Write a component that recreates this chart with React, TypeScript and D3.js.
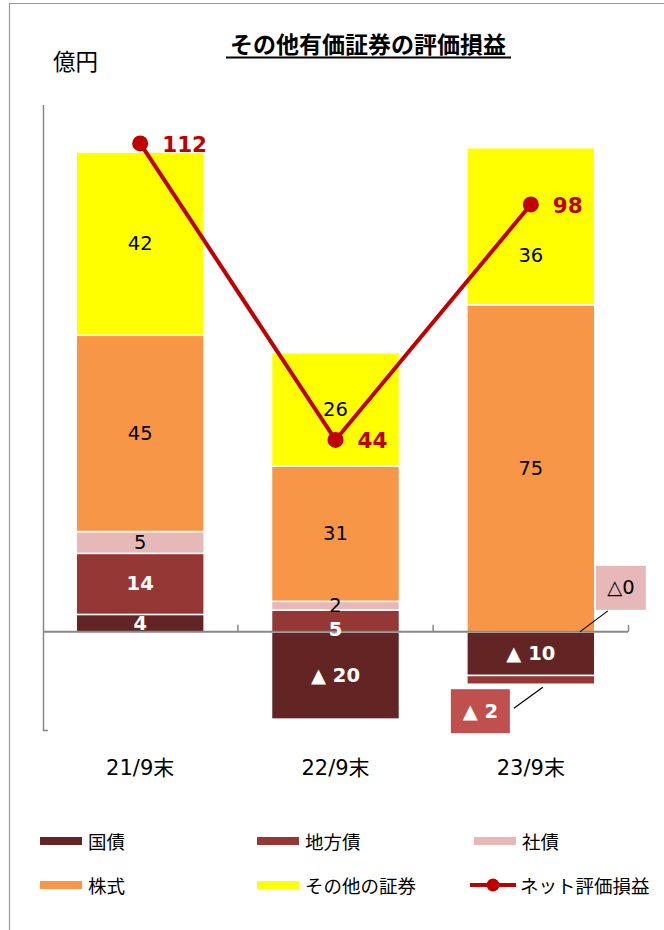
import React from "react";
import * as d3 from "d3";

const categories = ["21/9末", "22/9末", "23/9末"];
const seriesNames = ["国債", "地方債", "社債", "株式", "その他の証券"];
const kokusai = [4, -20, -10];
const chihousai = [14, 5, -2];
const shasai = [5, 2, 0];
const kabushiki = [45, 31, 75];
const sonota = [42, 26, 36];
const netValues = [112, 44, 98];
const lineName = "ネット評価損益";

const seriesValues = [kokusai, chihousai, shasai, kabushiki, sonota];
const colors = ["#632523", "#953735", "#E6B9B8", "#F79646", "#FFFF00"];
const labelColors = ["#fff", "#fff", "#000", "#000", "#000"];
const labelBold = [true, true, false, false, false];
const lineColor = "#C00000";

const W = 664;
const H = 930;
const FONT = "'DejaVu Sans', 'Noto Sans CJK JP', sans-serif";
const JFONT = "'Noto Sans CJK JP', sans-serif";

const fmt = (v: number) => (v < 0 ? `▲ ${Math.abs(v)}` : `${v}`);

export default function App() {
  const x = d3.scaleBand<string>().domain(categories).range([43, 628]).paddingInner(0.345).paddingOuter(0.17);
  const y = d3.scaleLinear().domain([-22.5, 120.8]).range([730, 105]);

  const rows = categories.map((c, i) => {
    const r: any = { cat: c };
    seriesNames.forEach((s, k) => (r[s] = seriesValues[k][i]));
    return r;
  });
  const stacked = d3.stack<any>().keys(seriesNames).offset(d3.stackOffsetDiverging)(rows);

  const y0 = y(0);
  const bw = x.bandwidth();
  const cx = (c: string) => (x(c) as number) + bw / 2;

  type Lab = { x: number; y: number; text: string; color: string; bold: boolean };
  const labels: Lab[] = [];
  categories.forEach((c, i) => {
    const catLabels: Lab[] = [];
    const py = y(netValues[i]);
    stacked.forEach((s, k) => {
      const v = seriesValues[k][i];
      if (v === 0) return;
      if (v < 0 && Math.abs(v) < 5) return; // small negative shown as callout
      const d = s[i];
      let mid = (y(d[0]) + y(d[1])) / 2;
      if (Math.abs(mid - py) < 25) mid = py + 51; // keep clear of the net marker
      catLabels.push({ x: cx(c), y: mid, text: fmt(v), color: labelColors[k], bold: labelBold[k] });
    });
    const pos = catLabels.filter((l) => l.y < y0).sort((a, b) => a.y - b.y);
    for (let j = 1; j < pos.length; j++) {
      if (pos[j].y - pos[j - 1].y < 22) pos[j].y = pos[j - 1].y + 24;
    }
    labels.push(...catLabels);
  });

  const line = d3
    .line<number>()
    .x((_, i) => cx(categories[i]))
    .y((d) => y(d));

  const c3 = categories[2];
  const bx3 = x(c3) as number;
  const chiSeg = stacked[1][2];
  const chiBottom = y(chiSeg[0]);

  const band = x.step();
  const tickXs = categories.map((c) => (x(c) as number) + bw / 2 + band / 2);

  const legendItems = [...seriesNames.map((s, k) => ({ name: s, color: colors[k], line: false })), { name: lineName, color: lineColor, line: true }];

  return (
    <svg width={W} height={H} style={{ display: "block", position: "absolute", left: 0, top: 0 }}>
      <rect x={0} y={0} width={W} height={H} fill="#fff" />
      <line x1={9} y1={3.5} x2={W} y2={3.5} stroke="#999" strokeWidth={1.2} />
      <line x1={9.5} y1={3} x2={9.5} y2={H} stroke="#999" strokeWidth={1.2} />

      <text x={368} y={53} textAnchor="middle" fontFamily={JFONT} fontWeight="bold" fontSize={23} fill="#000">
        その他有価証券の評価損益
      </text>
      <line x1={226} y1={57.5} x2={511} y2={57.5} stroke="#000" strokeWidth={2} />
      <text x={53} y={70} fontFamily={JFONT} fontSize={22.5} fill="#000">
        億円
      </text>

      {stacked.map((s, k) =>
        s.map((d, i) => {
          const v = seriesValues[k][i];
          if (v === 0) return null;
          const top = y(Math.max(d[0], d[1]));
          const bot = y(Math.min(d[0], d[1]));
          return (
            <rect key={`${k}-${i}`} x={x(categories[i])} y={top} width={bw} height={bot - top} fill={colors[k]} stroke="#fff" strokeWidth={1.5} />
          );
        })
      )}

      <line x1={43.5} y1={105} x2={43.5} y2={731} stroke="#888" strokeWidth={1.5} />
      <line x1={43} y1={730.5} x2={48} y2={730.5} stroke="#888" strokeWidth={1.5} />
      <line x1={43} y1={y0} x2={628} y2={y0} stroke="#888" strokeWidth={2} />
      {tickXs.map((tx, i) => (
        <line key={i} x1={tx} y1={y0} x2={tx} y2={y0 - 7} stroke="#888" strokeWidth={1.5} />
      ))}

      {labels.map((l, i) => (
        <text key={i} x={l.x} y={l.y} textAnchor="middle" dominantBaseline="central" fontFamily={FONT} fontSize={19.5} fontWeight={l.bold ? "bold" : "normal"} fill={l.color}>
          {l.text}
        </text>
      ))}

      {/* callouts */}
      <line x1={bx3 + 47} y1={chiBottom + 24} x2={bx3 + 76} y2={chiBottom + 3} stroke="#000" strokeWidth={1.2} />
      <rect x={bx3 - 16} y={chiBottom + 5} width={59} height={44} fill="#C0504D" />
      <text x={bx3 - 16 + 29.5} y={chiBottom + 27} textAnchor="middle" dominantBaseline="central" fontFamily={FONT} fontSize={19.5} fontWeight="bold" fill="#fff">
        {fmt(chihousai[2])}
      </text>
      <line x1={bx3 + 113} y1={y0} x2={bx3 + 141} y2={y0 - 21} stroke="#000" strokeWidth={1.2} />
      <rect x={bx3 + 129} y={y0 - 66} width={50} height={44} fill="#E6B9B8" />
      <text x={bx3 + 154} y={y0 - 44} textAnchor="middle" dominantBaseline="central" fontFamily={FONT} fontSize={19.5} fill="#000">
        {`△${shasai[2]}`}
      </text>

      <path d={line(netValues) || ""} fill="none" stroke={lineColor} strokeWidth={4} />
      {netValues.map((v, i) => (
        <g key={i}>
          <circle cx={cx(categories[i])} cy={y(v)} r={8} fill={lineColor} />
          <text x={cx(categories[i]) + 22} y={y(v) + 1} dominantBaseline="central" fontFamily={FONT} fontSize={21.5} fontWeight="bold" fill={lineColor}>
            {v}
          </text>
        </g>
      ))}

      {categories.map((c) => (
        <text key={c} x={cx(c)} y={768} textAnchor="middle" dominantBaseline="central" fontFamily={FONT} fontSize={21} fill="#000">
          {c}
        </text>
      ))}

      {legendItems.map((it, i) => {
        const col = i % 3;
        const row = Math.floor(i / 3);
        const lx = 40 + col * 217 + (it.line ? -4 : 0);
        const ly = 841 + row * 44;
        return (
          <g key={it.name}>
            {it.line ? (
              <g>
                <line x1={lx} y1={ly} x2={lx + 46} y2={ly} stroke={it.color} strokeWidth={4} />
                <circle cx={lx + 23} cy={ly} r={6.5} fill={it.color} />
              </g>
            ) : (
              <rect x={lx} y={ly - 4} width={42} height={8} fill={it.color} />
            )}
            <text x={lx + (it.line ? 50 : 48)} y={ly} dominantBaseline="central" fontFamily={JFONT} fontSize={18.5} fill="#000">
              {it.name}
            </text>
          </g>
        );
      })}
    </svg>
  );
}
